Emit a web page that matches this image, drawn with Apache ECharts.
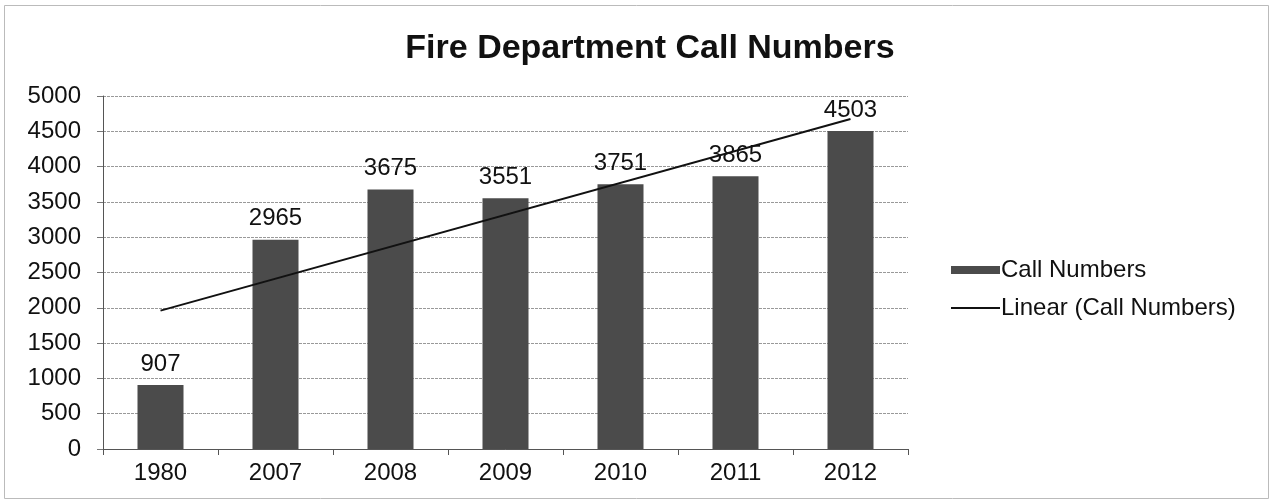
<!DOCTYPE html>
<html>
<head>
<meta charset="utf-8">
<script src="https://cdn.jsdelivr.net/npm/echarts@6/dist/echarts.min.js"></script>
<style>
html,body{margin:0;padding:0;background:#fff;}
#chart{width:1273px;height:504px;}
</style>
</head>
<body>
<div id="chart"></div>
<script>
const categories = ['1980', '2007', '2008', '2009', '2010', '2011', '2012'];
const callNumbers = [907, 2965, 3675, 3551, 3751, 3865, 4503];
// Trendline end values (first and last category)
const trendValues = [1960, null, null, null, null, null, 4674];
const yTicks = { min: 0, max: 5000, interval: 500 };

const chart = echarts.init(document.getElementById('chart'), null, { renderer: 'canvas' });
const font = 'Liberation Sans, Arial, sans-serif';
chart.setOption({
  animation: false,
  backgroundColor: '#fff',
  title: {
    text: 'Fire Department Call Numbers',
    left: 645, top: 27, textAlign: 'center',
    textStyle: { fontFamily: font, fontSize: 34, fontWeight: 'bold', color: '#111' }
  },
  graphic: [{
    type: 'rect', shape: { x: 4.5, y: 5.5, width: 1264, height: 493 },
    style: { fill: 'none', stroke: '#bbb', lineWidth: 1 }, silent: true, z: -1
  }],
  legend: {
    orient: 'vertical', left: 946, top: 253, itemGap: 14,
    itemWidth: 49, itemHeight: 8,
    textStyle: { fontFamily: font, fontSize: 24, color: '#111', padding: [0, 0, 0, -4] },
    data: [
      { name: 'Call Numbers', icon: 'rect' },
      { name: 'Linear (Call Numbers)',
        icon: 'path://M0,0 L0.01,0 L0.01,0.01 Z M0,3.1 L50,3.1 L50,4.9 L0,4.9 Z M0,8 L0.01,8 L0.01,7.99 Z',
        itemStyle: { color: '#111', borderWidth: 0 } }
    ]
  },
  grid: { left: 103, right: 365, top: 96, bottom: 55 },
  xAxis: {
    type: 'category', data: categories,
    axisLine: { lineStyle: { color: '#555', width: 1 } },
    axisTick: { show: true, alignWithLabel: false, length: 6, lineStyle: { color: '#555' } },
    axisLabel: { fontFamily: font, fontSize: 24, color: '#111', margin: 12 },
    splitLine: { show: false }
  },
  yAxis: {
    type: 'value', min: yTicks.min, max: yTicks.max, interval: yTicks.interval,
    axisLine: { show: true, lineStyle: { color: '#555', width: 1 } },
    axisTick: { show: true, length: 6, lineStyle: { color: '#777' } },
    axisLabel: { fontFamily: font, fontSize: 24, color: '#111', margin: 22, formatter: v => String(v) },
    splitLine: { show: true, lineStyle: { color: '#999', width: 1, type: [3, 1] } }
  },
  series: [
    {
      name: 'Call Numbers', type: 'bar', data: callNumbers, barWidth: '40%',
      itemStyle: { color: '#4b4b4b' },
      label: { show: true, position: 'top', distance: 9, fontFamily: font, fontSize: 24, color: '#111' }
    },
    {
      name: 'Linear (Call Numbers)', type: 'line', data: trendValues, connectNulls: true,
      symbol: 'none', lineStyle: { color: '#111', width: 2 }, itemStyle: { color: '#111' }, z: 5
    }
  ]
});
</script>
</body>
</html>
